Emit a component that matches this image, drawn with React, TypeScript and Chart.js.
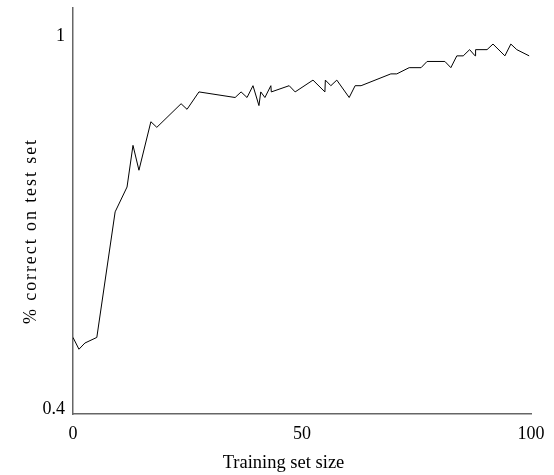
import React, { useEffect, useRef } from "react";
import { Chart, registerables } from "chart.js";

Chart.register(...registerables);

const xValues = [
  0, 1.3, 2.6, 5.2, 9.2, 11.8, 13.1, 14.4, 17.0, 18.3, 23.6, 24.9, 27.5, 35.4, 36.7, 38.0, 39.3,
  40.6, 41.0, 41.9, 43.2, 43.3, 47.2, 48.5, 52.4, 55.0, 55.1, 56.3, 57.6, 60.3, 61.6, 62.9, 69.4,
  70.7, 73.4, 76.0, 77.3, 81.2, 82.5, 83.8, 85.2, 86.6, 87.8, 87.9, 90.4, 91.7, 94.3, 95.6, 96.9, 99.6,
];
const yValues = [
  0.516, 0.497, 0.507, 0.516, 0.718, 0.758, 0.825, 0.785, 0.863, 0.854, 0.892, 0.883, 0.911, 0.902,
  0.911, 0.902, 0.921, 0.889, 0.911, 0.902, 0.921, 0.911, 0.921, 0.911, 0.93, 0.911, 0.93, 0.921,
  0.93, 0.902, 0.921, 0.921, 0.94, 0.94, 0.95, 0.95, 0.96, 0.96, 0.95, 0.969, 0.969, 0.979, 0.969,
  0.979, 0.979, 0.988, 0.969, 0.988, 0.979, 0.969,
];
const xTicks = [0, 50, 100];
const yTicks = [0.4, 1];
const xTitle = "Training set size";
const yTitle = "% correct on test set";

const FONT = "'Liberation Serif', 'Times New Roman', serif";

const yTitlePlugin = {
  id: "yTitleSpaced",
  afterDraw(chart: any) {
    const ctx = chart.ctx as CanvasRenderingContext2D;
    ctx.save();
    ctx.font = `18px ${FONT}`;
    ctx.fillStyle = "#000";
    (ctx as any).letterSpacing = "0px";
    const w = ctx.measureText(yTitle).width;
    const target = 186;
    const spacing = Math.max(0, (target - w) / yTitle.length);
    (ctx as any).letterSpacing = `${spacing}px`;
    ctx.translate(36, 232);
    ctx.rotate(-Math.PI / 2);
    ctx.textAlign = "center";
    ctx.textBaseline = "alphabetic";
    ctx.fillText(yTitle, spacing / 2, 0);
    ctx.restore();
  },
};

export default function App() {
  const ref = useRef<HTMLCanvasElement | null>(null);
  useEffect(() => {
    if (!ref.current) return;
    const chart = new Chart(ref.current, {
      type: "line",
      data: {
        datasets: [
          {
            data: xValues.map((x, i) => ({ x, y: yValues[i] })),
            borderColor: "#000",
            borderWidth: 1,
            pointRadius: 0,
            tension: 0,
            fill: false,
          },
        ],
      },
      plugins: [yTitlePlugin],
      options: {
        animation: false,
        responsive: true,
        maintainAspectRatio: false,
        layout: { padding: { top: 8, right: 23, left: 0, bottom: 0 } },
        plugins: { legend: { display: false }, tooltip: { enabled: false } },
        scales: {
          x: {
            type: "linear",
            min: 0,
            max: 100,
            afterBuildTicks: (s: any) => {
              s.ticks = xTicks.map((v) => ({ value: v }));
            },
            afterFit: (s: any) => {
              s.height = 61;
            },
            grid: { display: false, drawTicks: false },
            border: { display: true, color: "#666", width: 1.5 },
            ticks: {
              color: "#000",
              padding: 9,
              font: { family: FONT, size: 18 },
              callback: (v: any) => String(v),
              maxRotation: 0,
            },
            title: {
              display: true,
              text: xTitle + "\u00a0".repeat(8),
              color: "#000",
              font: { family: FONT, size: 18.5 },
              padding: { top: 1, bottom: 1 },
            },
          },
          y: {
            type: "linear",
            min: 0.3928,
            max: 1.046,
            afterBuildTicks: (s: any) => {
              s.ticks = yTicks.map((v) => ({ value: v }));
            },
            afterFit: (s: any) => {
              s.width = 73;
              s.paddingTop = 0;
            },
            grid: { display: false, drawTicks: false },
            border: { display: true, color: "#666", width: 1.5 },
            ticks: {
              color: "#000",
              padding: 8,
              font: { family: FONT, size: 18, lineHeight: 0.9 },
              callback: (v: any) => String(v),
            },
            title: { display: false },
          },
        },
      },
    });
    return () => chart.destroy();
  }, []);
  return (
    <div style={{ position: "fixed", left: 0, top: 0, width: 554, height: 475, background: "#fff" }}>
      <canvas ref={ref} />
    </div>
  );
}
